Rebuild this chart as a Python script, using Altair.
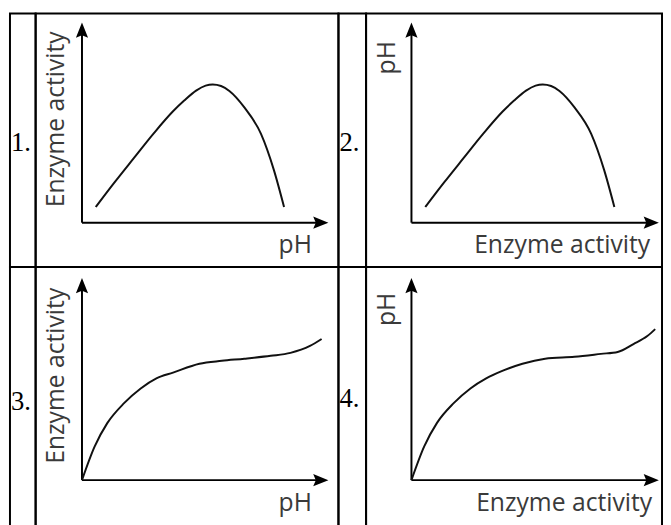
import altair as alt
import pandas as pd

# ---- data (arbitrary units, 0..10 on both axes) ----
BELL_X = [0.58, 1.36, 2.18, 3.00, 3.83, 4.30, 4.80, 5.20, 5.50, 5.85, 6.20, 6.83, 7.53, 8.07, 8.50]
BELL_Y = [0.82, 2.09, 3.37, 4.64, 5.82, 6.38, 6.90, 7.16, 7.22, 7.14, 6.88, 6.02, 4.64, 2.76, 0.82]

SAT3_X = [0.00, 0.53, 1.07, 1.77, 2.47, 3.13, 3.83, 4.94, 5.88, 6.83, 7.94, 8.77, 9.59, 10.08]
SAT3_Y = [0.00, 1.73, 2.96, 3.98, 4.74, 5.26, 5.56, 6.02, 6.17, 6.28, 6.43, 6.58, 6.94, 7.30]

SAT4_X = [0.00, 0.53, 1.07, 1.77, 2.47, 3.13, 3.83, 4.65, 5.60, 6.83, 7.94, 8.64, 9.30, 9.88, 10.21]
SAT4_Y = [0.00, 1.73, 2.96, 3.98, 4.74, 5.26, 5.66, 6.02, 6.28, 6.38, 6.53, 6.63, 7.04, 7.45, 7.81]

PANEL_LABELS = ["1.", "2.", "3.", "4."]
X_TITLES = ["pH", "Enzyme activity", "pH", "Enzyme activity"]
Y_TITLES = ["Enzyme activity", "pH", "Enzyme activity", "pH"]

AXIS_SEGS = {"x": [0, 0], "y": [0, 0], "x2": [10, 0], "y2": [0, 10]}
ARROWS = {"x": [10, 0], "y": [0, 10], "a": [90, 0]}

ARROW_PATH = "M0,-1L0.7,0.75L0,0.45L-0.7,0.75Z"
TITLE_FONT = "Open Sans"
TITLE_COLOR = "#3a3a3a"
TITLE_SIZE = 25


def label_cell(text, w, h, ypos):
    df = pd.DataFrame({"t": [text]})
    return alt.Chart(df).mark_text(
        font="Liberation Serif", fontSize=27, color="black",
        align="left", baseline="middle"
    ).encode(
        x=alt.value(1), y=alt.value(ypos), text="t:N"
    ).properties(width=w, height=h)


def graph_cell(xs, ys, xtitle, ytitle, w, h, xr, yr, ytitle_top, xtitle_right, xtitle_base):
    xs_ = alt.Scale(domain=[0, 10], range=xr)
    ys_ = alt.Scale(domain=[0, 10], range=yr)
    curve_df = pd.DataFrame({"x": xs, "y": ys})
    curve = alt.Chart(curve_df).mark_line(
        color="#111111", strokeWidth=2, interpolate="monotone"
    ).encode(
        x=alt.X("x:Q", scale=xs_, axis=None),
        y=alt.Y("y:Q", scale=ys_, axis=None),
    )
    axes = alt.Chart(pd.DataFrame(AXIS_SEGS)).mark_rule(
        color="black", strokeWidth=2
    ).encode(
        x=alt.X("x:Q", scale=xs_, axis=None),
        y=alt.Y("y:Q", scale=ys_, axis=None),
        x2="x2:Q", y2="y2:Q",
    )
    arrows = alt.Chart(pd.DataFrame(ARROWS)).mark_point(
        shape=ARROW_PATH, filled=True, size=310, color="black",
        opacity=1, strokeWidth=0
    ).encode(
        x=alt.X("x:Q", scale=xs_, axis=None),
        y=alt.Y("y:Q", scale=ys_, axis=None),
        angle=alt.Angle("a:Q", scale=None),
    )
    yt = alt.Chart(pd.DataFrame({"t": [ytitle]})).mark_text(
        font=TITLE_FONT, fontSize=TITLE_SIZE, color=TITLE_COLOR, angle=270,
        align="right", baseline="middle"
    ).encode(x=alt.value(21), y=alt.value(ytitle_top), text="t:N")
    xt = alt.Chart(pd.DataFrame({"t": [xtitle]})).mark_text(
        font=TITLE_FONT, fontSize=TITLE_SIZE, color=TITLE_COLOR,
        align="right", baseline="alphabetic"
    ).encode(x=alt.value(xtitle_right), y=alt.value(xtitle_base), text="t:N")
    return alt.layer(axes, curve, arrows, yt, xt).properties(width=w, height=h)


ROW1_H = 257
ROW2_H = 266
WA, WB, WC, WD = 26, 307, 28, 300

g1 = graph_cell(BELL_X, BELL_Y, X_TITLES[0], Y_TITLES[0], WB, ROW1_H,
                [47, 288], [212, 18], 18, 280, 243)
g2 = graph_cell(BELL_X, BELL_Y, X_TITLES[1], Y_TITLES[1], WD, ROW1_H,
                [46, 288], [212, 18], 28, 288, 243)
g3 = graph_cell(SAT3_X, SAT3_Y, X_TITLES[2], Y_TITLES[2], WB, ROW2_H,
                [47, 288], [216, 20], 21, 280, 247)
g4 = graph_cell(SAT4_X, SAT4_Y, X_TITLES[3], Y_TITLES[3], WD, ROW2_H,
                [46, 288], [216, 20], 26, 290, 247)

cells = [
    label_cell(PANEL_LABELS[0], WA, ROW1_H, 131), g1,
    label_cell(PANEL_LABELS[1], WC, ROW1_H, 131), g2,
    label_cell(PANEL_LABELS[2], WA, ROW2_H, 137), g3,
    label_cell(PANEL_LABELS[3], WC, ROW2_H, 134), g4,
]

chart = alt.concat(*cells, columns=4, spacing=0, bounds="flush").properties(
    padding={"left": 1, "top": 1, "right": 0, "bottom": 0},
    background="white",
).configure_view(
    stroke="black", strokeWidth=2
)

chart.save("out.html", embed_options={"renderer": "svg", "actions": False})
